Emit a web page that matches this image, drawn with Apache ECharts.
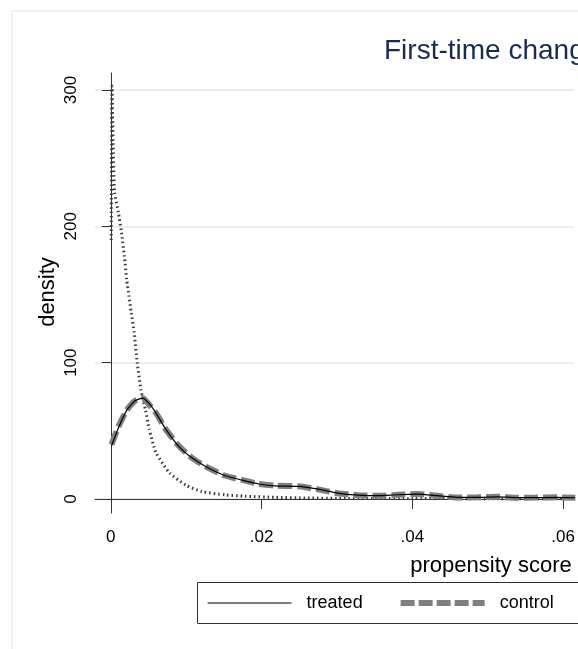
<!DOCTYPE html>
<html>
  <head>
    <meta charset="utf-8">
    <title>First-time changers</title>
    <script src="https://cdn.jsdelivr.net/npm/echarts@6/dist/echarts.min.js"></script>
  </head>
  <body style="margin: 0; background: #fff">
    <div id="container" style="width: 578px; height: 649px;"></div>
    <script type="text/javascript">
      // propensity score density, [score, density]
      var treated = [[0.0001,39],[0.0010,52],[0.0021,65],[0.0032,72],[0.0042,74],[0.0051,70],[0.0060,63],
        [0.0073,51],[0.0091,38],[0.0108,30],[0.0130,22.5],[0.0152,17],[0.0174,13.8],[0.0196,11],[0.0218,9.6],
        [0.0249,9.2],[0.0275,7.2],[0.0301,4.3],[0.0328,2.8],[0.0354,2.4],[0.0380,3.1],[0.0407,3.5],[0.0433,2.4],
        [0.0459,1.2],[0.0486,1.1],[0.0512,1.6],[0.0538,1],[0.0564,1],[0.0590,1.1],[0.0616,0.9]];
      var control = [[0.0001,40],[0.0010,53],[0.0021,65],[0.0032,72],[0.0042,74],[0.0051,69],[0.0060,63],
        [0.0073,51],[0.0091,38.5],[0.0108,30],[0.0130,22.6],[0.0152,17],[0.0174,14],[0.0196,11],[0.0218,9.8],
        [0.0249,9.3],[0.0275,7],[0.0301,4.2],[0.0328,2.8],[0.0354,2.3],[0.0380,3],[0.0407,3.6],[0.0433,2.3],
        [0.0459,1.1],[0.0486,1.2],[0.0512,1.7],[0.0538,0.9],[0.0564,1],[0.0590,1.2],[0.0616,0.8]];
      var unmatched = [[0.00005,190],[0.0001,260],[0.00015,303],[0.0003,262],[0.0005,225],[0.0010,210],
        [0.0014,196],[0.0018,178],[0.0021,161],[0.0024,149],[0.0027,137],[0.0031,122],[0.0035,100],[0.0040,80],
        [0.0046,65],[0.0051,51],[0.0060,34],[0.0078,19],[0.0100,10],[0.0121,5.4],[0.0152,3],[0.0178,2],
        [0.0218,1.2],[0.0260,0.7],[0.0300,0.5],[0.0350,0.3],[0.0400,0.3],[0.0500,0.2],[0.0616,0.2]];
      var xTicks = [0, 0.02, 0.04, 0.06];
      var yTicks = [0, 100, 200, 300];
      var legendNames = ['treated', 'control'];

      var font = 'Liberation Sans, Arial, sans-serif';
      var myChart = echarts.init(document.getElementById('container'));

      var option = {
        animation: false,
        backgroundColor: '#ffffff',
        title: {
          text: 'First-time changers',
          left: 379,
          top: 32,
          textStyle: {color: '#1a2a52', fontFamily: font, fontSize: 28, fontWeight: 'normal'}
        },
        graphic: [
          {type: 'rect', shape: {x: 12, y: 11, width: 700, height: 700}, silent: true,
            style: {fill: 'none', stroke: '#e6eeee', lineWidth: 1.5}},
          // legend frame runs past the right edge like the cropped original
          {type: 'rect', shape: {x: 197.5, y: 582.5, width: 500, height: 41}, silent: true,
            style: {fill: 'none', stroke: '#333', lineWidth: 1}},
          {type: 'text', x: 491, y: 566, style: {text: 'propensity score', fill: '#000', font: '22px ' + font,
            textAlign: 'center', textVerticalAlign: 'middle'}},
          {type: 'text', x: 48, y: 292, rotation: Math.PI / 2, style: {text: 'density', fill: '#000',
            font: '22px ' + font, textAlign: 'center', textVerticalAlign: 'middle'}}
        ],
        legend: {
          data: [
            {name: legendNames[0], lineStyle: {width: 1.2, color: '#000'}},
            {name: legendNames[1], lineStyle: {width: 6, color: '#7f7f7f', type: [14, 4]}}
          ],
          left: 197,
          top: 582,
          itemWidth: 84,
          itemHeight: 16,
          itemGap: 35,
          padding: [12, 5, 12, 10],
          itemStyle: {opacity: 0},
          textStyle: {color: '#000', fontFamily: font, fontSize: 18, padding: [0, 0, 0, 10]}
        },
        grid: {left: 95, right: 0, top: 73, bottom: 136},
        xAxis: {
          type: 'value',
          min: -0.0021,
          max: 0.0614,
          axisLine: {lineStyle: {color: '#333', width: 1}},
          axisTick: {customValues: xTicks, length: 10, lineStyle: {color: '#333'}},
          axisLabel: {
            customValues: xTicks, margin: 16, color: '#000', fontFamily: font, fontSize: 17,
            formatter: function (v) { return v === 0 ? '0' : String(v).replace('0.', '.'); }
          },
          splitLine: {show: false}
        },
        yAxis: {
          type: 'value',
          min: -10.3,
          max: 312.5,
          axisLine: {show: true, lineStyle: {color: '#333', width: 1}},
          axisTick: {show: true, customValues: yTicks, length: 9, lineStyle: {color: '#333'}},
          axisLabel: {customValues: yTicks, rotate: 90, margin: 15, color: '#000', fontFamily: font, fontSize: 17},
          splitLine: {show: true, lineStyle: {color: '#e7eef2', width: 2}}
        },
        series: [
          {
            name: 'unmatched',
            type: 'line',
            data: unmatched,
            symbol: 'none',
            smooth: 0.2,
            lineStyle: {color: '#3a3a3a', width: 3, type: [1.5, 3]},
            z: 1
          },
          {
            name: 'control',
            type: 'line',
            data: control,
            symbol: 'none',
            smooth: 0.2,
            lineStyle: {color: '#7f7f7f', width: 6, type: [14, 5]},
            itemStyle: {color: '#7f7f7f'},
            z: 2
          },
          {
            name: 'treated',
            type: 'line',
            data: treated,
            symbol: 'none',
            smooth: 0.2,
            lineStyle: {color: '#000', width: 1.2},
            itemStyle: {color: '#000'},
            z: 3
          }
        ]
      };

      myChart.setOption(option);
    </script>
  </body>
</html>
